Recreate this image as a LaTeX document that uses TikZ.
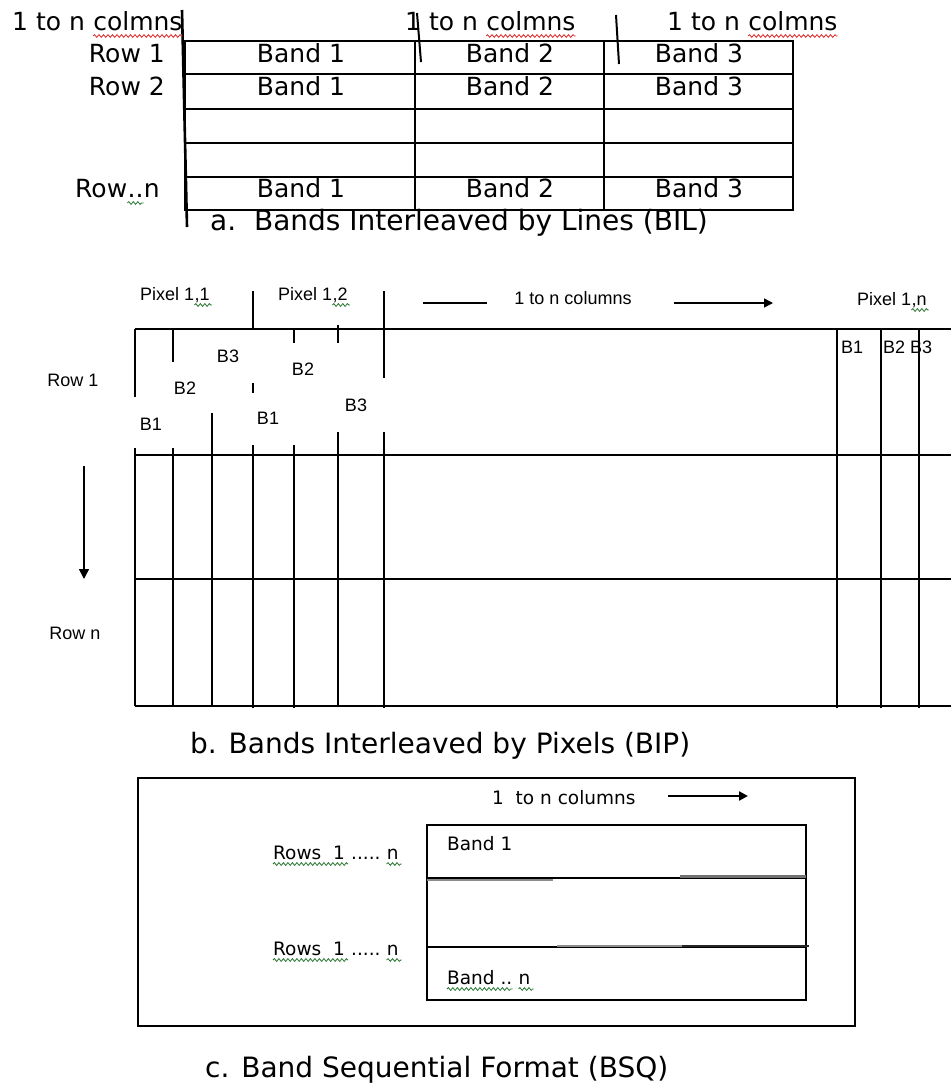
\documentclass[tikz,border=0pt]{standalone}
\usepackage{fontspec}
\usetikzlibrary{arrows.meta,decorations.pathmorphing}
\newfontfamily\docfont[WordSpace=1.9]{DejaVu Sans}
\newfontfamily\capfont[WordSpace=1.8]{DejaVu Sans}
\newfontfamily\lblfont{Liberation Sans}
\newfontfamily\boxfont{DejaVu Sans}

\begin{document}
\begin{tikzpicture}[x=1pt,y=-1pt,
  gridline/.style={line width=1.8pt},
  thinline/.style={line width=1.5pt},
  big/.style={font=\docfont\fontsize{25}{30}\selectfont,inner sep=0pt},
  caption/.style={font=\capfont\fontsize{28}{32}\selectfont,inner sep=0pt},
  small/.style={font=\lblfont\fontsize{18}{21}\selectfont,inner sep=0pt},
  mid/.style={font=\boxfont\fontsize{18.5}{22}\selectfont,inner sep=0pt},
  wave/.style={line width=0.8pt,decorate,
    decoration={snake,segment length=4.5pt,amplitude=1.4pt}},
  redwave/.style={wave,draw={rgb,255:red,225;green,40;blue,40}},
  greenwave/.style={wave,draw={rgb,255:red,40;green,120;blue,50}},
  tip/.style={-{Triangle[length=9pt,width=9pt]}}
]
\fill[white] (0,0) rectangle (951,1084);
\useasboundingbox (0,0) rectangle (951,1084);

% ---------- a. Bands Interleaved by Lines ----------
\draw[gridline] (185,41) rectangle (793,210);
\foreach \yy in {74,109,143,177} \draw[gridline] (185,\yy) -- (793,\yy);
\foreach \xx in {415,604} \draw[gridline] (\xx,41) -- (\xx,210);
\draw[line width=2.6pt] (182,10) -- (187,227);
\draw[line width=2pt] (417,13) -- (421,62);
\draw[line width=2pt] (616,15) -- (619,64);

\node[big,anchor=base west] (ca1) at (12,30) {1 to n\ \null};
\node[big,anchor=base west] (cb1) at (ca1.base east) {colmns};
\node[big,anchor=base west] (ca2) at (405,30) {1 to n\ \null};
\node[big,anchor=base west] (cb2) at (ca2.base east) {colmns};
\node[big,anchor=base west] (ca3) at (667,30) {1 to n\ \null};
\node[big,anchor=base west] (cb3) at (ca3.base east) {colmns};
\foreach \n in {1,2,3}
  \draw[redwave] ([yshift=-6pt]cb\n.base west) -- ([yshift=-6pt]cb\n.base east);

\node[big,anchor=base east] (r1) at (165,62) {Row 1};
\node[big,anchor=base east] (r2) at (165,95) {Row 2};
\node[big,anchor=base west] (rna) at (75,197) {Row};
\node[big,anchor=base west] (rnb) at (rna.base east) {..};
\node[big,anchor=base west] (rnc) at (rnb.base east) {n};
\draw[greenwave] ([yshift=-6pt]rnb.base west) -- ([yshift=-6pt]rnb.base east);

\foreach \yy/\r in {62/a,95/b,197/c}{
  \node[big,anchor=base] (b1\r) at (301,\yy) {Band 1};
  \node[big,anchor=base] (b2\r) at (510,\yy) {Band 2};
  \node[big,anchor=base] (b3\r) at (699,\yy) {Band 3};
}
\node[caption,anchor=base west] (capa) at (210,230) {a.\ \ Bands Interleaved by Lines (BIL)};

% ---------- b. Bands Interleaved by Pixels ----------
\foreach \yy in {329,455,579,706} \draw[gridline] (135,\yy) -- (951,\yy);
\draw[gridline] (135,329) -- (135,397);
\draw[gridline] (135,448) -- (135,706);
\draw[gridline] (173,329) -- (173,362);
\draw[gridline] (173,448) -- (173,706);
\draw[gridline] (212,413) -- (212,706);
\draw[gridline] (253,291) -- (253,329);
\draw[gridline] (253,383) -- (253,393);
\draw[gridline] (253,445) -- (253,708);
\draw[gridline] (294,329) -- (294,343);
\draw[gridline] (294,445) -- (294,708);
\draw[gridline] (338,325) -- (338,343);
\draw[gridline] (338,432) -- (338,706);
\draw[gridline] (384,291) -- (384,378);
\draw[gridline] (384,432) -- (384,708);
\foreach \xx in {837,881,919} \draw[gridline] (\xx,329) -- (\xx,708);

\node[small,anchor=base west] (p1a) at (140,300) {Pixel 1};
\node[small,anchor=base west] (p1b) at (p1a.base east) {,1};
\node[small,anchor=base west] (p2a) at (278,300) {Pixel 1};
\node[small,anchor=base west] (p2b) at (p2a.base east) {,2};
\node[small,anchor=base west] (p3a) at (857,305) {Pixel 1};
\node[small,anchor=base west] (p3b) at (p3a.base east) {,n};
\foreach \n in {1,2,3}
  \draw[greenwave] ([yshift=-5pt]p\n b.base west) -- ([yshift=-5pt,xshift=2pt]p\n b.base east);

\coordinate (cl) at (423,303);
\coordinate (cm) at (487,303);
\node[small,anchor=base] (cols) at (573,304) {1 to n columns};
\coordinate (cs) at (674,303);
\coordinate (ce) at (773,303);
\draw[thinline] (cl) -- (cm);
\draw[thinline,tip] (cs) -- (ce);

\node[small,anchor=base] (q3) at (228,362) {B3};
\node[small,anchor=base] (q2) at (185,394) {B2};
\node[small,anchor=base] (q1) at (151,430) {B1};
\node[small,anchor=base] (s2) at (303,375) {B2};
\node[small,anchor=base] (s3) at (356,411) {B3};
\node[small,anchor=base] (s1) at (268,424) {B1};
\node[small,anchor=base] (t1) at (852,353) {B1};
\node[small,anchor=base west] (t23) at (883,353) {B2 B3};

\node[small,anchor=base] (row1) at (73,386) {Row 1};
\node[small,anchor=base] (rown) at (75,639) {Row n};
\coordinate (dn1) at (84,466);
\coordinate (dn2) at (84,579);
\draw[thinline,-{Triangle[length=10pt,width=10pt]}] (dn1) -- (dn2);

\node[caption,anchor=base west] (capb) at (190,753) {b. Bands Interleaved by Pixels (BIP)};

% ---------- c. Band Sequential Format ----------
\draw[line width=2pt] (138,778) rectangle (855,1026);
\draw[line width=2pt] (427,825) rectangle (806,1000);
\draw[line width=1.6pt] (427,878) -- (806,878);
\draw[line width=1.6pt] (427,947) -- (806,947);
\draw[line width=2pt,black!45] (427,880) -- (553,880);
\draw[line width=2.2pt,black!55] (680,876.5) -- (806,876.5);
\draw[line width=2pt,black!45] (557,945.5) -- (682,945.5);
\draw[line width=2.4pt,black!85] (682,946) -- (809,946);

\node[mid,anchor=base west] (bcols) at (492,804) {1\ \ to n columns};
\coordinate (ba1) at (668,796);
\coordinate (ba2) at (748,796);
\draw[line width=2.2pt,tip] (ba1) -- (ba2);

\node[mid,anchor=base west] (band1) at (447,850) {Band 1};
\node[mid,anchor=base west] (bna) at (447,984) {Band ..};
\node[mid,anchor=base west] (bnb) at ([xshift=6pt]bna.base east) {n};
\draw[greenwave] ([yshift=-5pt]bna.base west) -- ([yshift=-5pt]bna.base east);
\draw[greenwave] ([yshift=-5pt]bnb.base west) -- ([yshift=-5pt,xshift=3pt]bnb.base east);

\foreach \yy/\k in {859/u,955/v}{
  \node[mid,anchor=base west] (rw\k a) at (273,\yy) {Rows\ \ 1};
  \node[mid,anchor=base west] (rw\k b) at (rw\k a.base east) {\null\ .....\ \null};
  \node[mid,anchor=base west] (rw\k c) at (rw\k b.base east) {n};
  \draw[greenwave] ([yshift=-5pt]rw\k a.base west) -- ([yshift=-5pt,xshift=3pt]rw\k a.base east);
  \draw[greenwave] ([yshift=-5pt]rw\k c.base west) -- ([yshift=-5pt,xshift=3pt]rw\k c.base east);
}

\node[caption,anchor=base west] (capc) at (205,1077) {c. Band Sequential Format (BSQ)};
\end{tikzpicture}
\end{document}
